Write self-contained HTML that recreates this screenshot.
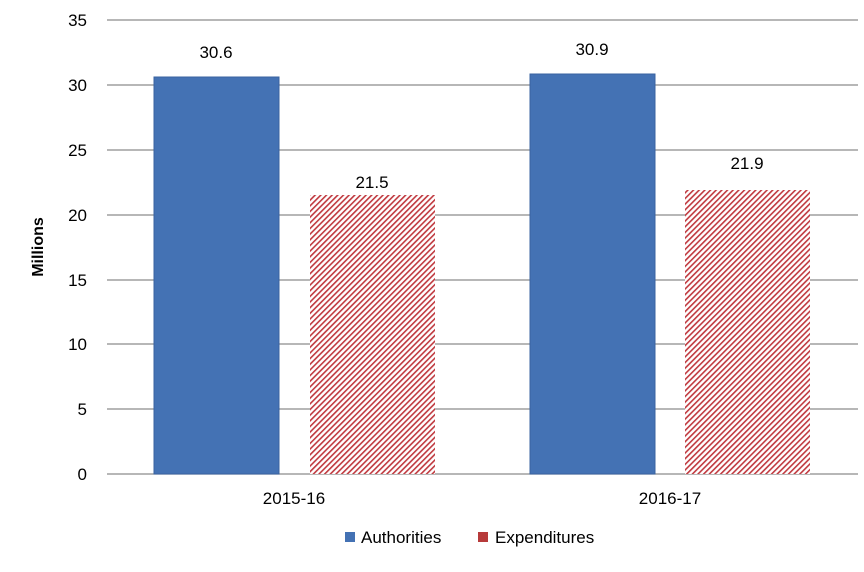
<!DOCTYPE html>
<html><head><style>body{margin:0;background:#fff}svg{display:block}text{font-family:"Liberation Sans",sans-serif;fill:#000}</style></head>
<body>
<svg width="864" height="572" viewBox="0 0 864 572" xmlns="http://www.w3.org/2000/svg">
<defs>
<pattern id="h" width="4" height="4" patternUnits="userSpaceOnUse" patternTransform="rotate(45)">
<rect width="4" height="4" fill="#fff"/><rect width="1.6" height="4" fill="#c0393f"/>
</pattern>
</defs>
<g stroke="#8c8c8c" stroke-width="1.3">
<line x1="107" x2="858" y1="20" y2="20"/>
<line x1="107" x2="858" y1="85" y2="85"/>
<line x1="107" x2="858" y1="150" y2="150"/>
<line x1="107" x2="858" y1="215" y2="215"/>
<line x1="107" x2="858" y1="280" y2="280"/>
<line x1="107" x2="858" y1="344" y2="344"/>
<line x1="107" x2="858" y1="409" y2="409"/>
<line x1="107" x2="858" y1="474" y2="474"/>
</g>
<g font-size="17" text-anchor="end">
<text x="87" y="26">35</text><text x="87" y="91">30</text><text x="87" y="156">25</text><text x="87" y="221">20</text>
<text x="87" y="286">15</text><text x="87" y="350">10</text><text x="87" y="415">5</text><text x="87" y="480">0</text>
</g>
<text transform="translate(43,247) rotate(-90)" font-size="16" font-weight="bold" text-anchor="middle">Millions</text>
<rect x="154" y="77" width="125" height="397" fill="#4472b4" stroke="#3a63a0" stroke-width="1"/>
<rect x="310" y="195" width="125" height="279" fill="url(#h)"/>
<rect x="530" y="74" width="125" height="400" fill="#4472b4" stroke="#3a63a0" stroke-width="1"/>
<rect x="685" y="190" width="125" height="284" fill="url(#h)"/>
<g font-size="17" text-anchor="middle">
<text x="216" y="58">30.6</text><text x="372" y="188">21.5</text>
<text x="592" y="55">30.9</text><text x="747" y="169">21.9</text>
<text x="294" y="504">2015-16</text><text x="670" y="504">2016-17</text>
</g>
<rect x="345" y="532" width="10" height="10" fill="#4472b4"/>
<text x="361" y="543" font-size="17">Authorities</text>
<rect x="478" y="532" width="10" height="10" fill="#b73a3a"/>
<text x="495" y="543" font-size="17">Expenditures</text>
</svg>
</body></html>
